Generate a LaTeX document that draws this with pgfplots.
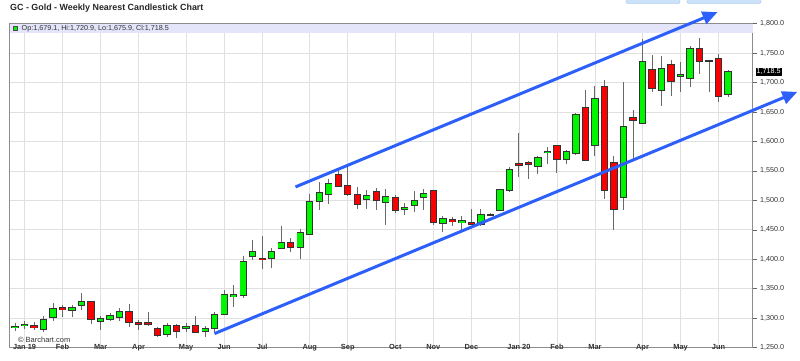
\documentclass[border=0pt]{standalone}
\usepackage{fontspec}
\setmainfont{Liberation Sans}
\usepackage{pgfplots}
\pgfplotsset{compat=1.18}
\usepackage{pgfplotstable}
\usetikzlibrary{arrows.meta}

\definecolor{cgreen}{RGB}{0,245,0}
\definecolor{cred}{RGB}{250,0,0}
\definecolor{wick}{RGB}{105,105,105}
\definecolor{gridc}{RGB}{224,224,224}
\definecolor{band}{RGB}{228,228,250}
\definecolor{arrowblue}{RGB}{45,95,250}
\definecolor{labc}{RGB}{51,51,51}
\definecolor{btnfill}{RGB}{204,226,248}
\definecolor{btndraw}{RGB}{150,190,235}

\pgfplotstableread{
i o h l c
0 1283.4 1291.9 1278.3 1285.7
1 1287.0 1296.0 1282.0 1290.0
2 1287.4 1293.6 1280.6 1283.4
3 1281.0 1303.0 1276.0 1297.0
4 1302.0 1326.0 1296.0 1317.0
5 1318.0 1323.0 1302.0 1314.0
6 1313.0 1322.0 1302.0 1318.0
7 1321.0 1343.0 1314.0 1329.0
8 1328.0 1329.0 1290.0 1298.0
9 1294.0 1304.0 1280.0 1299.0
10 1298.0 1309.0 1295.0 1304.0
11 1301.0 1318.0 1296.0 1311.0
12 1312.0 1324.0 1285.0 1293.0
13 1292.0 1297.0 1280.0 1290.0
14 1292.0 1310.0 1287.0 1290.0
15 1283.0 1285.0 1268.0 1271.0
16 1273.0 1291.0 1268.0 1288.0
17 1288.0 1290.0 1266.0 1278.0
18 1282.0 1291.0 1277.0 1286.5
19 1287.0 1303.0 1275.0 1276.0
20 1277.0 1287.0 1268.0 1283.0
21 1283.0 1310.0 1277.0 1306.0
22 1307.0 1347.0 1305.0 1341.0
23 1336.0 1356.0 1319.0 1340.6
24 1339.0 1406.0 1334.0 1395.5
25 1404.6 1433.0 1399.0 1412.5
26 1402.0 1440.0 1384.0 1400.0
27 1400.5 1419.0 1386.0 1412.4
28 1418.6 1456.0 1417.0 1427.7
29 1428.8 1435.6 1412.0 1420.3
30 1420.3 1451.0 1401.0 1446.3
31 1442.0 1511.0 1440.7 1498.4
32 1498.0 1532.0 1484.0 1513.7
33 1510.0 1537.0 1494.5 1528.0
34 1543.6 1552.0 1522.0 1524.0
35 1525.6 1560.6 1507.0 1509.7
36 1509.7 1522.0 1486.0 1492.7
37 1501.0 1518.0 1486.0 1508.0
38 1515.0 1521.0 1484.0 1500.0
39 1497.0 1519.0 1458.0 1506.0
40 1505.0 1509.0 1478.0 1483.4
41 1484.5 1494.7 1476.0 1488.0
42 1490.7 1515.6 1480.6 1499.7
43 1504.3 1520.0 1483.4 1511.7
44 1516.8 1517.4 1458.0 1462.4
45 1460.0 1473.7 1446.5 1468.6
46 1467.5 1472.0 1456.7 1464.0
47 1461.8 1473.0 1450.5 1465.8
48 1462.4 1484.5 1458.0 1459.6
49 1458.4 1485.0 1456.7 1475.4
50 1475.0 1478.0 1473.0 1476.0
51 1482.0 1520.0 1481.7 1518.0
52 1516.0 1556.0 1514.5 1552.0
53 1562.0 1614.0 1540.0 1560.0
54 1564.0 1567.0 1536.0 1561.5
55 1558.0 1575.5 1545.0 1572.0
56 1580.5 1590.0 1562.0 1582.5
57 1592.5 1594.0 1547.0 1569.0
58 1569.0 1585.0 1561.6 1583.0
59 1580.0 1648.0 1577.0 1645.0
60 1657.6 1688.0 1566.0 1567.0
61 1592.4 1693.5 1575.7 1672.6
62 1693.0 1704.0 1502.0 1516.5
63 1563.5 1575.0 1450.3 1484.3
64 1504.6 1700.5 1484.3 1624.6
65 1641.0 1654.0 1571.0 1635.5
66 1630.0 1774.5 1629.0 1736.5
67 1722.0 1746.0 1684.0 1689.6
68 1685.7 1744.5 1660.0 1723.6
69 1731.0 1737.7 1676.6 1701.0
70 1710.6 1735.0 1684.0 1714.0
71 1706.6 1761.5 1692.5 1757.0
72 1757.5 1776.0 1715.0 1736.0
73 1735.0 1738.0 1684.0 1736.6
74 1740.6 1748.0 1667.0 1677.0
75 1679.1 1720.9 1675.9 1718.5
}\ohlc

\begin{document}
\begin{tikzpicture}[x=1pt,y=1pt]
\useasboundingbox (0,0) rectangle (800,360);
\begin{axis}[
  at={(10,21)}, anchor=south west, scale only axis,
  width=743pt, height=324pt,
  xmin=-0.579, xmax=77.57, ymin=1250, ymax=1800,
  clip=false,
  axis line style={draw=black!45},
  xtick={1,5,9,13,18,22,26,31,35,40,44,48,53,57,61,66,70,74},
  xticklabels={Jan 19,Feb,Mar,Apr,May,Jun,Jul,Aug,Sep,Oct,Nov,Dec,Jan 20,Feb,Mar,Apr,May,Jun},
  xticklabel style={font=\bfseries\fontsize{7.4}{8}\selectfont, text=labc, yshift=11pt},
  ytick={1250,1300,...,1800},
  yticklabel pos=right, ytick pos=right,
  scaled y ticks=false,
  /pgf/number format/assume math mode=true,
  yticklabel style={font=\fontsize{7.2}{8}\selectfont, text=labc,
    /pgf/number format/.cd, fixed, fixed zerofill, precision=1, 1000 sep={,}},
  grid=major, grid style={draw=gridc, line width=0.8pt},
  tick align=outside, major tick length=4pt,
  xtick style={draw=none},
  ytick style={draw=black!60, line width=0.6pt},
]
% legend band
\fill[band] (axis cs:-0.579,1783.5) rectangle (axis cs:77.57,1800);
\node[draw=black!70, fill=cgreen, minimum size=4.5pt, inner sep=0, line width=0.5pt] at (axis cs:0.02,1791.9) {};
\node[anchor=west, inner sep=0, text=labc, font=\fontsize{7.2}{8}\selectfont] at (axis cs:0.68,1791.9) {Op:1,679.1, Hi:1,720.9, Lo:1,675.9, Cl:1,718.5};

% wicks
\addplot[draw=none, mark=none, forget plot,
  error bars/.cd, y dir=both, y explicit, error mark=none,
  error bar style={draw=wick, line width=1pt}]
  table[x=i, y expr={(\thisrow{h}+\thisrow{l})/2}, y error expr={(\thisrow{h}-\thisrow{l})/2}] {\ohlc};
% up bodies
\addplot[draw=none, mark=none, forget plot,
  restrict expr to domain={\thisrow{c}-\thisrow{o}}{0:1000},
  error bars/.cd, y dir=both, y explicit, error mark=none,
  error bar style={draw=black!80, line width=7.3pt}]
  table[x=i, y expr={(\thisrow{o}+\thisrow{c})/2}, y error expr={abs(\thisrow{c}-\thisrow{o})/2+0.85}] {\ohlc};
\addplot[draw=none, mark=none, forget plot,
  restrict expr to domain={\thisrow{c}-\thisrow{o}}{0:1000},
  error bars/.cd, y dir=both, y explicit, error mark=none,
  error bar style={draw=cgreen, line width=5.5pt}]
  table[x=i, y expr={(\thisrow{o}+\thisrow{c})/2}, y error expr={max(abs(\thisrow{c}-\thisrow{o})/2-0.85,0)}] {\ohlc};
% down bodies
\addplot[draw=none, mark=none, forget plot,
  restrict expr to domain={\thisrow{c}-\thisrow{o}}{-1000:-0.001},
  error bars/.cd, y dir=both, y explicit, error mark=none,
  error bar style={draw=black!80, line width=7.3pt}]
  table[x=i, y expr={(\thisrow{o}+\thisrow{c})/2}, y error expr={abs(\thisrow{c}-\thisrow{o})/2+0.85}] {\ohlc};
\addplot[draw=none, mark=none, forget plot,
  restrict expr to domain={\thisrow{c}-\thisrow{o}}{-1000:-0.001},
  error bars/.cd, y dir=both, y explicit, error mark=none,
  error bar style={draw=cred, line width=5.5pt}]
  table[x=i, y expr={(\thisrow{o}+\thisrow{c})/2}, y error expr={max(abs(\thisrow{c}-\thisrow{o})/2-0.85,0)}] {\ohlc};

% watermark
\node[anchor=west, inner sep=0, text=labc, font=\fontsize{7.5}{8}\selectfont] at (axis cs:0.3,1264.1) {\textcopyright{} Barchart.com};
% last price box
\node[fill=black, text=white, anchor=west, inner sep=1pt, font=\fontsize{7.2}{8}\selectfont] at (axis cs:77.57,1718.5) [xshift=3pt] {1,718.5};
% trend channel arrows
\draw[arrowblue, line width=3pt, -{Triangle[length=15pt,width=13pt]}] (axis cs:29.5,1522.8) -- (axis cs:73.89,1819.5);
\draw[arrowblue, line width=3pt, -{Triangle[length=15pt,width=13pt]}] (axis cs:20.98,1273.8) -- (axis cs:82.28,1684.1);
\end{axis}
% title
\node[anchor=base west, inner sep=0, font=\bfseries\fontsize{8.9}{10}\selectfont, text=black!85] at (10,350) {GC - Gold - Weekly Nearest Candlestick Chart};
% toolbar buttons (partially visible)
\draw[fill=btnfill, draw=btndraw, rounded corners=2pt] (626,356.5) rectangle (680,366);
\draw[fill=btnfill, draw=btndraw, rounded corners=2pt] (687,356.5) rectangle (761,366);
\end{tikzpicture}
\end{document}
